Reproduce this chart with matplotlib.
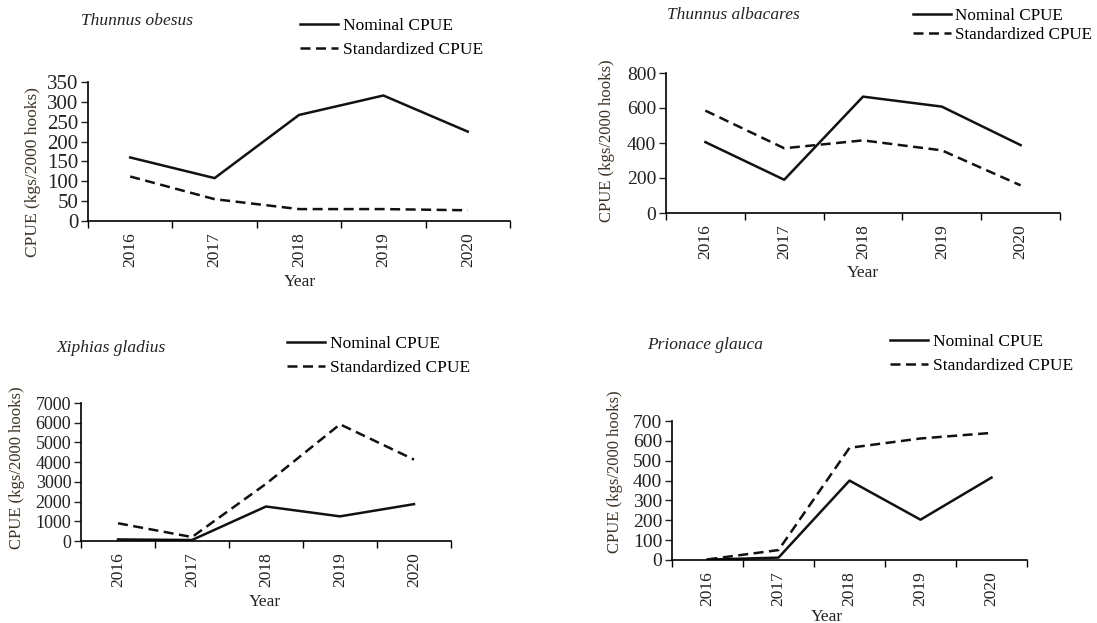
import matplotlib
matplotlib.use("Agg")
import matplotlib.pyplot as plt
from matplotlib.ticker import MultipleLocator, FixedLocator

plt.rcParams['font.family'] = ['Liberation Serif', 'DejaVu Serif']

years = ['2016', '2017', '2018', '2019', '2020']

species = ['Thunnus obesus', 'Thunnus albacares', 'Xiphias gladius', 'Prionace glauca']

nominal_obesus = [160, 108, 267, 316, 225]
standard_obesus = [112, 55, 30, 30, 27]

nominal_albacares = [405, 190, 665, 608, 388]
standard_albacares = [585, 370, 415, 358, 158]

nominal_xiphias = [80, 50, 1750, 1250, 1870]
standard_xiphias = [900, 200, 2900, 5920, 4130]

nominal_prionace = [2, 12, 400, 203, 415]
standard_prionace = [3, 50, 565, 612, 640]

ylims = [350, 800, 7000, 700]
ysteps = [50, 200, 1000, 100]

W, H = 1097, 623
fig = plt.figure(figsize=(W / 100, H / 100), dpi=100)

def fx(px):
    return px / W

def fy(py):
    return 1 - py / H

# pixel boxes: left, right, bottom, top
boxes = [(88, 510, 221, 82), (666, 1060, 213, 73), (81, 451, 541, 403), (672, 1027, 560, 421)]
title_pos = [(81, 21), (667, 15), (57, 348), (647, 345)]
legend_pos = [(300, 18), (913, 8), (287, 336), (890, 334)]
ylabel_pos = [(33, 172), (607, 141), (17, 468), (615, 472)]
xlabel_pos = [(300, 282), (863, 273), (265, 602), (827, 617)]
ytick_fs = [15, 14, 13, 14]
ylabel_fs = [12.5, 12, 12, 12]
leg_fs = [12.5, 12.3, 12.5, 12.5]

data = [(nominal_obesus, standard_obesus), (nominal_albacares, standard_albacares),
        (nominal_xiphias, standard_xiphias), (nominal_prionace, standard_prionace)]

txt = '#222222'
ylab_col = '#3d3428'

for i in range(4):
    l, r, b, t = boxes[i]
    ax = fig.add_axes([fx(l), fy(b), fx(r) - fx(l), fy(t) - fy(b)])
    x = list(range(len(years)))
    nom, std = data[i]
    ax.plot(x, nom, color='#111111', lw=1.8, label='Nominal CPUE')
    ax.plot(x, std, color='#111111', lw=1.8, ls=(0, (4, 2.2)), label='Standardized CPUE')
    ax.set_xlim(-0.5, len(years) - 0.5)
    ax.set_ylim(0, ylims[i])
    ax.yaxis.set_major_locator(MultipleLocator(ysteps[i]))
    ax.xaxis.set_major_locator(FixedLocator([k - 0.5 for k in range(len(years) + 1)]))
    ax.xaxis.set_major_formatter(plt.NullFormatter())
    ax.xaxis.set_minor_locator(FixedLocator(x))
    ax.set_xticks(x, years, minor=True)
    ax.tick_params(axis='x', which='minor', length=0, rotation=90, labelsize=12.5, colors=txt, pad=8)
    ax.tick_params(axis='x', which='major', length=5, width=1, direction='out')
    ax.tick_params(axis='y', length=5, width=1, direction='out', labelsize=ytick_fs[i], colors=txt, pad=2)
    for s in ['top', 'right']:
        ax.spines[s].set_visible(False)
    for s in ['left', 'bottom']:
        ax.spines[s].set_linewidth(1.2)
    fig.text(fx(title_pos[i][0]), fy(title_pos[i][1]), species[i], style='italic',
             fontsize=12.5, color=txt, ha='left', va='center')
    fig.text(fx(ylabel_pos[i][0]), fy(ylabel_pos[i][1]), 'CPUE (kgs/2000 hooks)', rotation=90,
             fontsize=ylabel_fs[i], color=ylab_col, ha='center', va='center')
    fig.text(fx(xlabel_pos[i][0]), fy(xlabel_pos[i][1]), 'Year', fontsize=12.5, color=txt,
             ha='center', va='center')
    ax.legend(loc='upper left', bbox_to_anchor=(fx(legend_pos[i][0]), fy(legend_pos[i][1])),
              bbox_transform=fig.transFigure, frameon=False, fontsize=leg_fs[i],
              handlelength=2.2, handletextpad=0.25, labelspacing=0.45 if i in (0, 2, 3) else 0.15,
              borderpad=0, borderaxespad=0)

fig.savefig('out.png', dpi=100)
